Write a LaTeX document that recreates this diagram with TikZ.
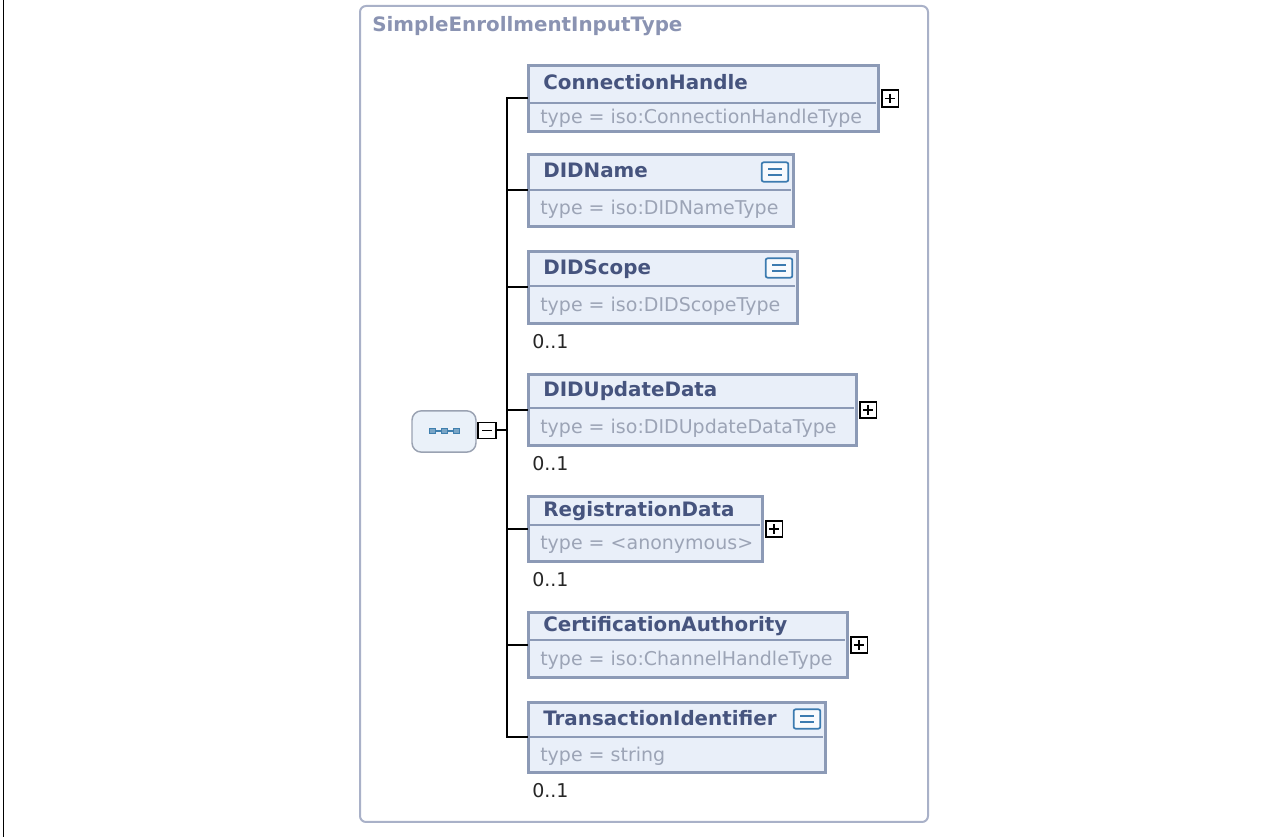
\documentclass[tikz,border=0pt]{standalone}
\usepackage{fontspec}
\setmainfont{DejaVu Sans}
\usepackage{tikz}
\usetikzlibrary{calc}
\definecolor{framecol}{HTML}{A9B1C8}
\definecolor{frametitlecol}{HTML}{8A93B2}
\definecolor{elemborder}{HTML}{8C9AB6}
\definecolor{elemfill}{HTML}{E9EFF9}
\definecolor{elemtitlecol}{HTML}{46547E}
\definecolor{elemtypecol}{HTML}{9CA4B6}
\definecolor{eqblue}{HTML}{3C7BB0}
\definecolor{seqborder}{HTML}{9AA2B2}
\definecolor{seqfill}{HTML}{EAF1F9}
\definecolor{seqblue}{HTML}{3F7FAE}
\def\px{0.75pt}
\tikzstyle{frame}=[rectangle, draw=framecol, line width=1.5pt, rounded corners=4.5pt, inner sep=0pt]
\tikzstyle{frametitle}=[inner sep=0pt, text=frametitlecol, font=\fontsize{14.9pt}{18pt}\selectfont\bfseries]
\tikzstyle{elembox}=[rectangle, draw=elemborder, line width=2.6pt, fill=elemfill, inner sep=0pt]
\tikzstyle{divline}=[draw=elemborder, line width=1.4pt]
\tikzstyle{elemtitle}=[inner sep=0pt, text=elemtitlecol, font=\fontsize{14.9pt}{18pt}\selectfont\bfseries]
\tikzstyle{elemtype}=[inner sep=0pt, text=elemtypecol, font=\fontsize{14.25pt}{17pt}\selectfont]
\tikzstyle{occur}=[inner sep=0pt, text=black!85, font=\fontsize{14.25pt}{17pt}\selectfont]
\tikzstyle{wire}=[draw=black, line width=1.5pt, line cap=rect]
\tikzstyle{plusbox}=[rectangle, draw=black, fill=white, line width=1.3pt, minimum size=12.5pt, inner sep=0pt,
    path picture={\draw[line width=1.4pt] ([xshift=2.6pt]path picture bounding box.west) -- ([xshift=-2.6pt]path picture bounding box.east)
        ([yshift=-2.6pt]path picture bounding box.north) -- ([yshift=2.6pt]path picture bounding box.south);}]
\tikzstyle{minusbox}=[rectangle, draw=black, fill=white, line width=1.3pt, minimum width=13pt, minimum height=12pt, inner sep=0pt,
    path picture={\draw[line width=1.4pt] ([xshift=2.8pt]path picture bounding box.west) -- ([xshift=-2.8pt]path picture bounding box.east);}]
\tikzstyle{eqbox}=[rectangle, draw=eqblue, fill=white!70!elemfill, line width=1.3pt, rounded corners=1.5pt, minimum width=20pt, minimum height=14.5pt, inner sep=0pt,
    path picture={\draw[eqblue, line width=1.1pt] ([shift={(-5pt,2.4pt)}]path picture bounding box.center) -- ([shift={(5pt,2.4pt)}]path picture bounding box.center)
        ([shift={(-5pt,-2.4pt)}]path picture bounding box.center) -- ([shift={(5pt,-2.4pt)}]path picture bounding box.center);}]
\tikzstyle{compositor}=[rectangle, draw=seqborder, fill=seqfill, line width=1.1pt, rounded corners=7pt, minimum width=48pt, minimum height=31pt, inner sep=0pt]
\tikzstyle{seqdot}=[rectangle, draw=seqblue, fill=seqblue!70, line width=0.7pt, minimum size=4.3pt, inner sep=0pt]

\begin{document}
\begin{tikzpicture}[x=0.75pt, y=-0.75pt]

    \useasboundingbox (0,0) rectangle (1283,837);
    \draw[line width=1.1pt] (3.3,0) -- (3.3,837);

    % complex type frame
    \node[frame, minimum width=568*\px, minimum height=816*\px] (frame) at (644,414) {};
    \node[frametitle, anchor=base west] (frame-title) at (372,31.5) {SimpleEnrollmentInputType};

    % child elements: name/top/bottom/right/divider/title/type
    \foreach \name/\ytop/\ybot/\xr/\ymid/\title/\type in {
        conn/64/133/880/103/ConnectionHandle/iso:ConnectionHandleType,
        didname/153/228/795/190/DIDName/iso:DIDNameType,
        didscope/250/325/799/286/DIDScope/iso:DIDScopeType,
        didupd/373/447/858/408/DIDUpdateData/iso:DIDUpdateDataType,
        regdata/495/563/764/525/RegistrationData/<anonymous>,
        certauth/611/679/849/640/CertificationAuthority/iso:ChannelHandleType,
        transid/701/774/827/737/TransactionIdentifier/string}
    {
        \node[elembox, minimum width={(\xr-530.5)*\px}, minimum height={(\ybot-\ytop-3.5)*\px}] (\name) at ({(527+\xr)/2},{(\ytop+\ybot)/2}) {};
        \draw[divline] (529,\ymid) -- (\xr-4,\ymid);
        \node[elemtitle, anchor=base west] (\name-title) at (543,{(\ytop+\ymid)/2+6.5}) {\title};
        \node[elemtype, anchor=base west] (\name-type) at (540,{(\ymid+\ybot)/2+6}) {type = \type};
    }

    \foreach \name in {conn, didupd, regdata, certauth}
        \node[plusbox, anchor=west] (\name-plus) at ([xshift=0.8pt]\name.east) {};

    \foreach \name/\x/\y in {didname/775/172, didscope/779/268, transid/807/719}
        \node[eqbox] (\name-eq) at (\x,\y) {};

    \foreach \name in {didscope, didupd, regdata, transid}
        \node[occur, anchor=base west] (\name-occ) at ([shift={(5,23.5)}]\name.south west) {0..1};

    % sequence compositor
    \node[compositor] (seq) at (444,431.5) {};
    \foreach \x/\name in {432.5/d1, 444.5/d2, 456.5/d3}
        \node[seqdot] (\name) at (\x,431) {};
    \draw[seqblue, line width=0.9pt] (d1.east) -- (d2.west) (d2.east) -- (d3.west);
    \node[minusbox] (collapse) at (487,430.5) {};

    \coordinate (bus) at (507,431);
    \draw[wire] (collapse.east) -- (collapse.east -| bus);
    \draw[wire] (conn.west -| bus) -- (transid.west -| bus);
    \foreach \name in {conn, didname, didscope, didupd, regdata, certauth, transid}
        \draw[wire] (\name.west -| bus) -- (\name.west);

\end{tikzpicture}
\end{document}
